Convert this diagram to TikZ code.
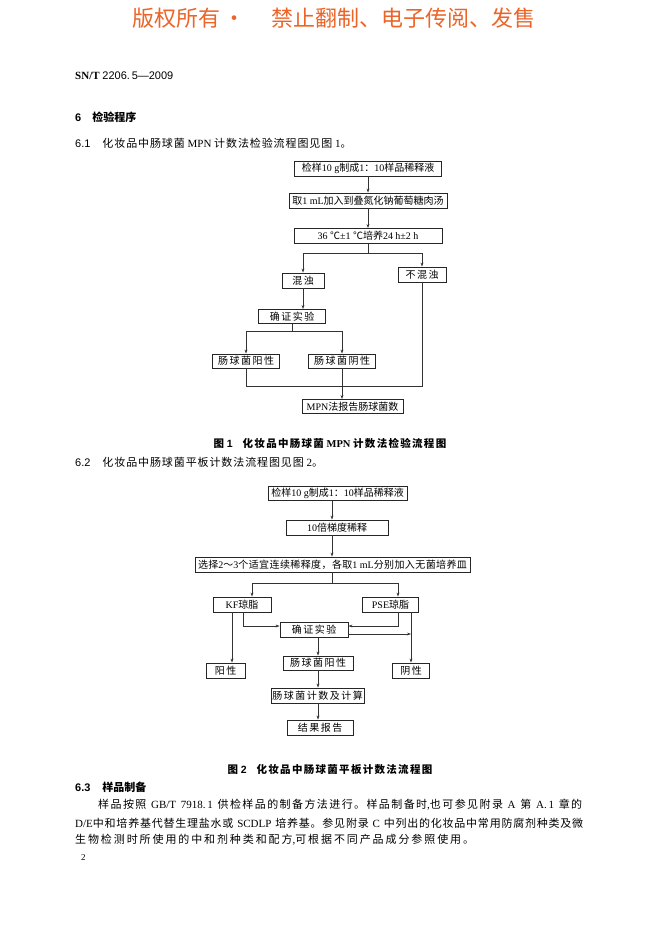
\documentclass[tikz,border=0pt]{standalone}
\usepackage{fontspec}
\setmainfont{Liberation Serif}
\setsansfont{Liberation Sans}
\newfontfamily\cjk{Noto Sans CJK SC}
\usetikzlibrary{arrows.meta}

% CJK characters in \cjk, Latin in Liberation
\newXeTeXintercharclass\cjkclass
\newskip\cjkgap
\newcommand\cjkfont{\cjk}
\newcommand\setcjkrange[2]{%
  \count255=#1
  \loop\XeTeXcharclass\count255=\cjkclass
    \ifnum\count255<#2 \advance\count255 by 1 \repeat}
\setcjkrange{"4E00}{"9FFF}
\setcjkrange{"3000}{"303F}
\setcjkrange{"FF00}{"FF5E}
\XeTeXcharclass"2103=\cjkclass
\XeTeXinterchartoks 0 \cjkclass = {\begingroup\cjkfont}
\XeTeXinterchartoks 4095 \cjkclass = {\begingroup\cjkfont}
\XeTeXinterchartoks \cjkclass 0 = {\endgroup}
\XeTeXinterchartoks \cjkclass 4095 = {\endgroup}
\XeTeXinterchartoks \cjkclass \cjkclass = {\hskip\cjkgap}
\XeTeXinterchartokenstate=1

\definecolor{warn}{RGB}{236,100,40}
\newcommand\boxfont{\fontsize{10}{12}\selectfont}
\newcommand\bodyfont{\fontsize{11}{13}\selectfont}
\newcommand\capfont{\fontsize{10.5}{12}\selectfont\bfseries\cjkgap=1.3pt\relax}

\begin{document}
\begin{tikzpicture}[x=1pt,y=-1pt,
    box/.style={draw=black!85,line width=0.8pt,inner sep=0pt,minimum height=15pt,font=\boxfont},
    wbox/.style={box,font={\boxfont\cjkgap=1.5pt\relax}},
    txt/.style={anchor=west,inner sep=0pt,font=\bodyfont},
    conn/.style={draw=black!80,line width=0.6pt},
    >={Stealth[length=4pt,width=2.8pt]}]
    \fill[white] (0,0) rectangle (662,936);
    \useasboundingbox (0,0) rectangle (662,936);

    % Intestazione
    \node[txt,font={\cjk\fontsize{22}{26}\selectfont},text=warn] (hdr) at (132,18)
        {版权所有\hspace{3pt}·\hspace{26pt}禁止翻制、电子传阅、发售};
    \node[txt] (code) at (75,76) {\textbf{SN/T} \textsf{2206.\,5—2009}};
    \node[txt,font={\bodyfont\bfseries}] (sec6) at (75,117) {\textsf{6}\hspace{11pt}检验程序};
    \node[txt,font={\bodyfont\cjkgap=0.9pt\relax}] (s61) at (75,143)
        {\textsf{6.1}\hspace{12pt}化妆品中肠球菌 MPN 计数法检验流程图见图 1。};

    % Figura 1
    \node[box,minimum width=147pt] (m1) at (368,168.5) {检样10 g制成1：10样品稀释液};
    \node[box,minimum width=158pt] (m2) at (368,200.5) {取1 mL加入到叠氮化钠葡萄糖肉汤};
    \node[box,minimum width=148pt] (m3) at (368,236) {36 ℃±1 ℃培养24 h±2 h};
    \node[wbox,minimum width=42pt] (m4) at (303,280.5) {混浊};
    \node[wbox,minimum width=48pt] (m5) at (422,274.5) {不混浊};
    \node[wbox,minimum width=67pt,minimum height=14pt] (m6) at (292,316.5) {确证实验};
    \node[wbox,minimum width=67pt,minimum height=14pt] (m7) at (246,361) {肠球菌阳性};
    \node[wbox,minimum width=67pt,minimum height=14pt] (m8) at (342,361) {肠球菌阴性};
    \node[box,minimum width=101pt,minimum height=14pt] (m9) at (352.5,406.5) {MPN法报告肠球菌数};

    \coordinate (b1) at (368,253);
    \coordinate (b2) at (292,331);
    \coordinate (b3) at (246,386);
    \coordinate (b4) at (422,386);
    \draw[conn,->] (m1) -- (m2);
    \draw[conn,->] (m2) -- (m3);
    \draw[conn] (m3) -- (b1);
    \draw[conn,->] (b1) -| (m4);
    \draw[conn,->] (b1) -| (m5);
    \draw[conn,->] (m4) -- (m4 |- m6.north);
    \draw[conn] (m6) -- (b2);
    \draw[conn,->] (b2) -| (m7);
    \draw[conn,->] (b2) -| (m8);
    \draw[conn] (m7) -- (b3) -- (b4) -- (m5);
    \draw[conn,->] (m8) -- (m8 |- m9.north);

    \node[font=\capfont,inner sep=0pt] (cap1) at (330,443)
        {图 \textsf{1}\hspace{10pt}化妆品中肠球菌 MPN 计数法检验流程图};
    \node[txt,font={\bodyfont\cjkgap=0.9pt\relax}] (s62) at (75,462)
        {\textsf{6.2}\hspace{12pt}化妆品中肠球菌平板计数法流程图见图 2。};

    % Figura 2
    \node[box,minimum width=139pt,minimum height=14pt] (p1) at (337.5,493.5) {检样10 g制成1：10样品稀释液};
    \node[box,minimum width=102pt] (p2) at (337,527.5) {10倍梯度稀释};
    \node[box,minimum width=275pt,font={\boxfont\cjkgap=0.4pt\relax}] (p3) at (332.5,564.5)
        {选择2～3个适宜连续稀释度，各取1 mL分别加入无菌培养皿};
    \node[box,minimum width=58pt] (p4) at (242,604.5) {KF琼脂};
    \node[box,minimum width=56pt] (p5) at (390.5,604.5) {PSE琼脂};
    \node[wbox,minimum width=68pt] (p6) at (314,629.5) {确证实验};
    \node[wbox,minimum width=70pt,minimum height=14pt] (p7) at (318,663) {肠球菌阳性};
    \node[wbox,minimum width=39pt] (p8) at (225.5,670.5) {阳性};
    \node[wbox,minimum width=37pt] (p9) at (411,670.5) {阴性};
    \node[wbox,minimum width=93pt] (p10) at (317.5,695.5) {肠球菌计数及计算};
    \node[wbox,minimum width=66pt] (p11) at (320,727.5) {结果报告};

    \coordinate (c1) at (332,583);
    \coordinate (c2) at (252,583);
    \coordinate (c3) at (398,583);
    \draw[conn,->] (p1.south -| c1) -- (p2.north -| c1);
    \draw[conn,->] (p2.south -| c1) -- (p3.north -| c1);
    \draw[conn] (p3.south -| c1) -- (c1);
    \draw[conn,->] (c1) -- (c2) -- (c2 |- p4.north);
    \draw[conn,->] (c1) -- (c3) -- (c3 |- p5.north);
    \draw[conn,->] ([xshift=-10pt]p4.south) -- ([xshift=-10pt]p4.south |- p8.north);
    \draw[conn,->] ([xshift=1pt]p4.south) |- ([yshift=3.5pt]p6.west);
    \draw[conn,->] ([xshift=7.5pt]p5.south) |- ([yshift=3.5pt]p6.east);
    \draw[conn,->] (p5.south -| p9) -- (p9);
    \draw[conn,->] ([yshift=-4.5pt]p6.east) -- ([yshift=-4.5pt]p6.east -| p9);
    \draw[conn,->] (p6.south -| p7) -- (p7);
    \draw[conn,->] (p7) -- (p7 |- p10.north);
    \draw[conn,->] (p10.south -| p7) -- (p7 |- p11.north);

    \node[font=\capfont,inner sep=0pt] (cap2) at (330,770)
        {图 \textsf{2}\hspace{10pt}化妆品中肠球菌平板计数法流程图};

    % Testo
    \node[txt,font={\bodyfont\bfseries}] (s63) at (75,787) {\textsf{6.3}\hspace{12pt}样品制备};
    \node[txt,font={\bodyfont\cjkgap=0pt plus 1pt\relax}] (par1) at (98,805)
        {\makebox[484pt][s]{样品按照 GB/T 7918.\,1 供检样品的制备方法进行。样品制备时,也可参见附录 A 第 A.\,1 章的}};
    \node[txt,font={\bodyfont\cjkgap=0pt plus 1pt\relax}] (par2) at (75,823)
        {\makebox[508pt][s]{D/E中和培养基代替生理盐水或 SCDLP 培养基。参见附录 C 中列出的化妆品中常用防腐剂种类及微}};
    \node[txt,font={\bodyfont\cjkgap=1.9pt\relax}] (par3) at (75,840)
        {生物检测时所使用的中和剂种类和配方,可根据不同产品成分参照使用。};
    \node[txt,font=\fontsize{9}{11}\selectfont] (pg) at (81,858) {2};
\end{tikzpicture}
\end{document}
